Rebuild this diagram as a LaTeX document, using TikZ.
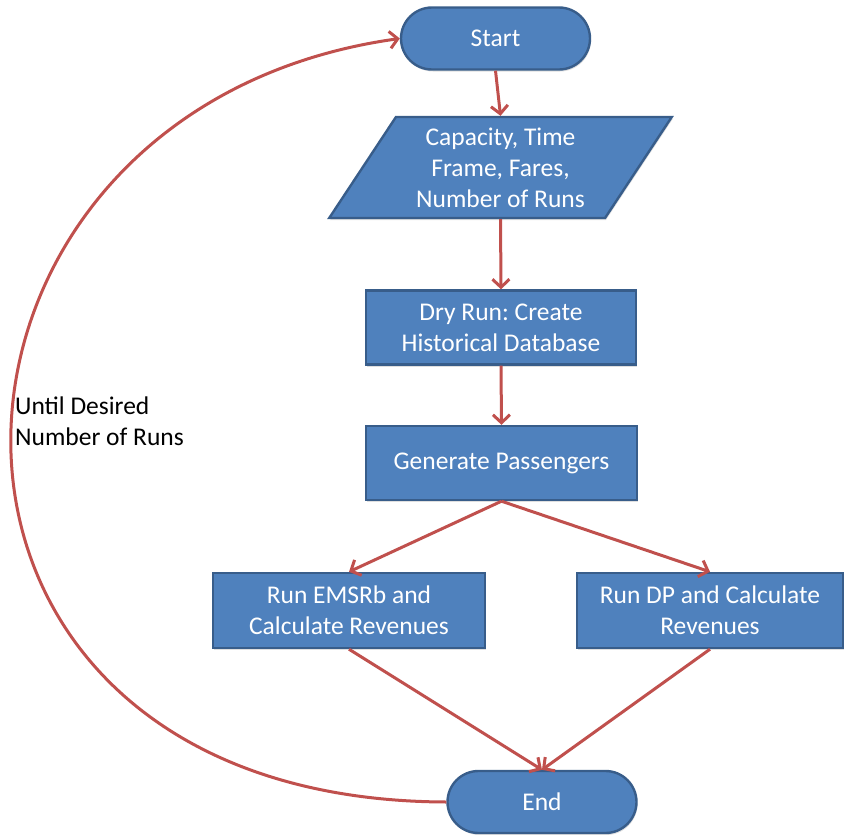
\documentclass[tikz,border=0pt]{standalone}
\usepackage{fontspec}
\setmainfont{Carlito}
\usetikzlibrary{shapes.geometric,arrows.meta,shadows}
\definecolor{boxfill}{HTML}{4F81BD}
\definecolor{boxline}{HTML}{385D8A}
\definecolor{arrowred}{HTML}{C0504D}
\frenchspacing
\begin{document}
\begin{tikzpicture}[x=1pt,y=-1pt,
  base/.style={fill=boxfill,draw=boxline,line width=2.4pt,text=white,align=center,
    font=\fontsize{25.5}{31}\selectfont,inner sep=0pt,
    drop shadow={shadow xshift=1pt,shadow yshift=-2pt,opacity=0.25}},
  pill/.style={base,rounded corners=31pt,minimum width=189pt,minimum height=62pt},
  procbox/.style={base,rectangle,minimum height=74pt},
  iobox/.style={base,trapezium,trapezium left angle=56,trapezium right angle=124,
    trapezium stretches=true,minimum width=343pt,minimum height=101pt},
  flow/.style={draw=arrowred,line width=3pt,-{Straight Barb[length=8pt,width=17pt,line width=3pt]}},
  lbl/.style={font=\fontsize{25.5}{31}\selectfont,align=left,inner sep=0pt}
]
\useasboundingbox (0,0) rectangle (844,835);
\node[pill] (start) at (495.5,38.5) {Start};
\node[iobox] (input) at (500.5,167.5) {Capacity, Time\\Frame, Fares,\\Number of Runs};
\node[procbox,minimum width=270pt] (dry) at (501,327.5) {Dry Run: Create\\Historical Database};
\node[procbox,minimum width=271pt] (gen) at (501.5,463) {Generate Passengers};
\node[procbox,minimum width=272pt,minimum height=75pt] (ems) at (349,610.5) {Run EMSRb and\\Calculate Revenues};
\node[procbox,minimum width=266pt,minimum height=75pt] (dp) at (710,610.5) {Run DP and Calculate\\Revenues};
\node[pill] (end) at (542,802) {End};
\node[lbl,anchor=west] (loop) at (15,421) {Until Desired\\Number of Runs};

\draw[flow] (start.south) -- (input.north);
\draw[flow] (input.south) -- (dry.north);
\draw[flow] (dry.south) -- (gen.north);
\draw[flow] (gen.south) -- (ems.north);
\draw[flow] (gen.south) -- (dp.north);
\draw[flow] (ems.south) -- (end.north);
\draw[flow] (dp.south) -- (end.north);
\draw[flow] (end.west) .. controls (-140,800) and (-112,110) .. (start.west);
\end{tikzpicture}
\end{document}
